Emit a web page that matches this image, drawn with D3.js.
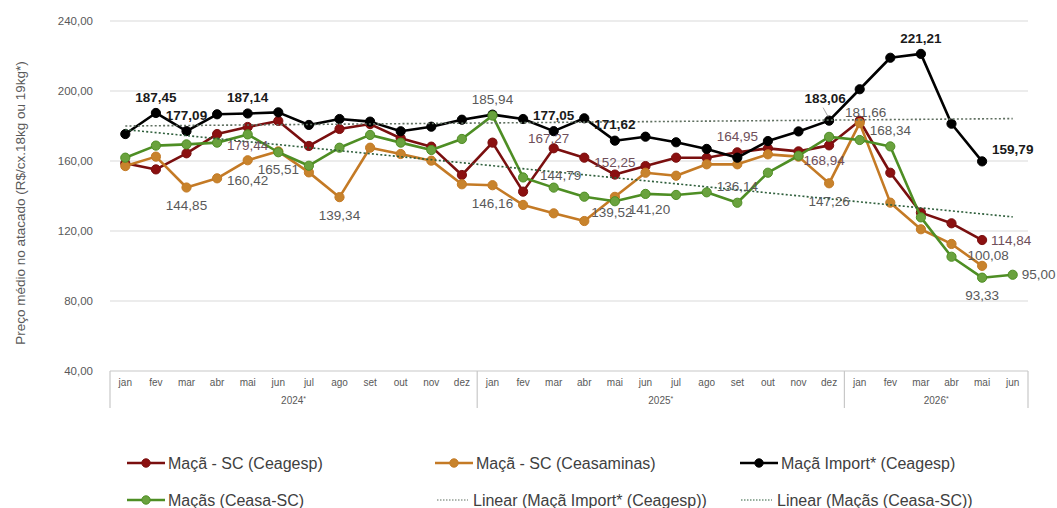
<!DOCTYPE html>
<html><head><meta charset="utf-8">
<script src="https://cdn.jsdelivr.net/npm/d3@7/dist/d3.min.js"></script>
<style>body{margin:0;background:#fff;} svg{display:block;font-family:"Liberation Sans",Arial,sans-serif;}</style>
</head><body><svg id="c" width="1057" height="508"></svg>
<script>
const months = ["jan","fev","mar","abr","mai","jun","jul","ago","set","out","nov","dez",
  "jan","fev","mar","abr","mai","jun","jul","ago","set","out","nov","dez",
  "jan","fev","mar","abr","mai","jun"];
const years = ["2024","2025","2026"];
const yearSpans = [12,12,6];
const yTicks = [40,80,120,160,200,240];

const ceagespSC = [158.7,155.2,164.4,175.4,179.44,182.9,168.6,178.3,181.1,173.0,168.2,152.0,
  170.5,142.5,167.27,161.9,152.25,157.1,161.9,161.9,164.95,167.2,165.5,168.94,
  183.0,153.3,130.5,124.4,114.84];
const ceasaminas = [157.1,162.5,144.85,150.1,160.42,165.51,153.5,139.34,167.6,164.0,160.2,146.7,
  146.16,134.9,130.1,125.7,139.52,153.3,151.6,158.1,158.1,163.8,162.5,147.26,
  181.66,136.2,121.0,112.6,100.08];
const importCeagesp = [175.4,187.45,177.09,186.7,187.14,187.8,180.6,184.0,182.5,177.0,179.6,183.6,
  186.5,184.0,177.05,184.4,171.62,173.9,170.7,166.9,161.9,171.4,176.9,183.06,
  201.0,219.0,221.21,181.3,159.79];
const ceasaSC = [161.9,168.8,169.5,170.5,175.2,165.0,157.3,167.6,174.9,170.5,166.3,172.6,
  185.94,150.6,144.79,139.6,137.0,141.20,140.6,142.1,136.14,153.3,163.0,173.8,
  172.0,168.34,127.8,105.3,93.33,95.00];

const seriesNames = ["Maçã - SC (Ceagesp)","Maçã - SC (Ceasaminas)","Maçã Import* (Ceagesp)","Maçãs (Ceasa-SC)"];
const trendNames = ["Linear (Maçã Import* (Ceagesp))","Linear (Maçãs (Ceasa-SC))"];

// labelled points: [series index, point index, placement]
const labelled = [
  [2,1,"a"],[2,2,"a"],[2,4,"a"],[2,14,"a"],[2,16,"a"],[2,23,"lead"],[2,26,"a"],[2,28,"rup"],
  [0,4,"b"],[0,14,"al"],[0,16,"a2"],[0,20,"a"],[0,23,"bl"],[0,28,"r"],
  [1,2,"b"],[1,4,"b3"],[1,7,"b"],[1,12,"b"],[1,16,"b2l"],[1,23,"b"],[1,24,"ar"],[1,28,"ar"],
  [1,5,"b"],[3,12,"a"],[3,14,"ar2"],[3,17,"b2r"],[3,20,"a"],[3,25,"a"],[3,28,"b"],[3,29,"r"]
];

const svg = d3.select("#c");
const pLeft = 110, pRight = 1028, pTop = 21, pBottom = 371;
const x = d3.scaleBand().domain(d3.range(months.length)).range([pLeft,pRight]);
const cx = i => x(i) + x.bandwidth()/2;
const y = d3.scaleLinear().domain([40,240]).range([pBottom,pTop]);

const colors = {
  line:["#7a0f0f","#c47a25","#000000","#4e8e24"],
  mark:["#8b1010","#c8832c","#000000","#6aa23e"],
  label:["#6e4f5a","#595959","#1a1a1a","#595959"]
};
const fmt = v => d3.format(".2f")(v).replace(".",",");

// grid
const yAxis = d3.axisLeft(y).tickValues(yTicks).tickSize(0).tickFormat(fmt);
const ga = svg.append("g").attr("transform",`translate(${pLeft-14},0)`).call(yAxis);
ga.select(".domain").remove();
ga.selectAll("text").attr("fill","#595959").style("font-size","11.5px").attr("font-family","Liberation Sans, Arial");
svg.append("g").selectAll("line").data(yTicks.filter(t=>t>40)).join("line")
  .attr("x1",pLeft).attr("x2",pRight).attr("y1",d=>y(d)).attr("y2",d=>y(d))
  .attr("stroke","#d9d9d9").attr("stroke-width",1.2);

// category axis box
svg.append("line").attr("x1",pLeft).attr("x2",pRight).attr("y1",y(40)).attr("y2",y(40)).attr("stroke","#c8c8c8").attr("stroke-width",1.2);
let acc = 0;
const bounds = [0];
yearSpans.forEach(s=>{acc+=s; bounds.push(acc);});
svg.append("g").selectAll("line").data(bounds).join("line")
  .attr("x1",d=> d<months.length ? x(d) : pRight).attr("x2",d=> d<months.length ? x(d) : pRight)
  .attr("y1",y(40)).attr("y2",y(40)+37).attr("stroke","#c8c8c8").attr("stroke-width",1.2);
svg.append("g").selectAll("text").data(months).join("text")
  .attr("x",(d,i)=>cx(i)).attr("y",y(40)+15).attr("text-anchor","middle")
  .attr("fill","#595959").style("font-size","10px").text(d=>d);
const yt = svg.append("g").selectAll("text").data(years).join("text")
  .attr("x",(d,i)=>{const a=bounds[i], b=bounds[i+1]; return (x(a) + (b<months.length?x(b):pRight))/2;})
  .attr("y",y(40)+33).attr("text-anchor","middle").attr("fill","#595959").style("font-size","10px");
yt.append("tspan").text(d=>d);
yt.append("tspan").attr("dy",-3).style("font-size","7px").text("*");

// y title
svg.append("text").attr("transform","translate(25,203) rotate(-90)").attr("text-anchor","middle")
  .attr("fill","#595959").style("font-size","13.5px").text("Preço médio no atacado (R$/cx.18kg ou 19kg*)");

const all = [ceagespSC, ceasaminas, importCeagesp, ceasaSC];
const line = d3.line().x((d,i)=>cx(i)).y(d=>y(d));
all.forEach((s,k)=>{
  svg.append("path").datum(s).attr("d",line).attr("fill","none")
    .attr("stroke",colors.line[k]).attr("stroke-width",2.6).attr("stroke-linejoin","round");
  svg.append("g").selectAll("circle").data(s).join("circle")
    .attr("cx",(d,i)=>cx(i)).attr("cy",d=>y(d)).attr("r",4.6)
    .attr("fill",colors.mark[k]).attr("stroke",colors.line[k]).attr("stroke-width",1);
});

// linear trends (least squares)
function fit(s){
  const n=s.length, xs=d3.range(n);
  const mx=d3.mean(xs), my=d3.mean(s);
  const b=d3.sum(xs,(xi,i)=>(xi-mx)*(s[i]-my))/d3.sum(xs,xi=>(xi-mx)*(xi-mx));
  return i=> my + b*(i-mx);
}
const trendSeries=[importCeagesp, ceasaSC];
const trendColors=["#5f6f60","#2f5f3c"];
trendSeries.forEach((s,k)=>{
  const f=fit(s);
  svg.append("line").attr("x1",cx(0)).attr("x2",cx(months.length-1))
    .attr("y1",y(f(0))).attr("y2",y(f(months.length-1)))
    .attr("stroke",trendColors[k]).attr("stroke-width",1.6).attr("stroke-dasharray","2,2.2");
});

// data labels
const place = {
  a:[0,-16,"middle"], a2:[0,-12,"middle"], al:[-5,-10,"middle"], b:[0,18,"middle"], b2:[0,15,"middle"],
  b3:[0,20,"middle"], b2l:[-3,15,"middle"], b2r:[4,15,"middle"],
  bl:[-5,15,"middle"], ar:[6,-11,"middle"], ar2:[7,-12,"middle"], r:[9,0,"start"], rup:[10,-12,"start"],
  lead:[-4,-22,"middle"]
};
labelled.forEach(([k,i,p])=>{
  const v=all[k][i], px=cx(i), py=y(v), o=place[p];
  if(p==="lead"){
    svg.append("line").attr("x1",px-6).attr("y1",py-13).attr("x2",px-1).attr("y2",py-4)
      .attr("stroke","#a6a6a6").attr("stroke-width",1);
  }
  svg.append("text").attr("x",px+o[0]).attr("y",py+o[1]).attr("dy","0.35em")
    .attr("text-anchor",o[2]).attr("fill",colors.label[k])
    .style("font-size","13.5px").style("font-weight",k===2?"bold":"normal").text(fmt(v));
});

// legend
const leg = [
  {t:seriesNames[0],k:0,x:127,y:463,type:"s"},
  {t:seriesNames[1],k:1,x:435,y:463,type:"s"},
  {t:seriesNames[2],k:2,x:740,y:463,type:"s"},
  {t:seriesNames[3],k:3,x:127,y:500,type:"s"},
  {t:trendNames[0],k:0,x:437,y:500,type:"t"},
  {t:trendNames[1],k:1,x:741,y:500,type:"t"}
];
leg.forEach(d=>{
  const g=svg.append("g");
  if(d.type==="s"){
    g.append("line").attr("x1",d.x).attr("x2",d.x+38).attr("y1",d.y).attr("y2",d.y)
      .attr("stroke",colors.line[d.k]).attr("stroke-width",2.6);
    g.append("circle").attr("cx",d.x+19).attr("cy",d.y).attr("r",4.2).attr("fill",colors.mark[d.k]).attr("stroke",colors.line[d.k]);
    g.append("text").attr("x",d.x+41).attr("y",d.y).attr("dy","0.35em").attr("fill","#404040").style("font-size","16px").text(d.t);
  } else {
    g.append("line").attr("x1",d.x).attr("x2",d.x+31).attr("y1",d.y).attr("y2",d.y)
      .attr("stroke",trendColors[d.k]).attr("stroke-width",1.2).attr("stroke-dasharray","1.5,1.5");
    g.append("text").attr("x",d.x+36).attr("y",d.y).attr("dy","0.35em").attr("fill","#404040").style("font-size","16px").text(d.t);
  }
});
</script></body></html>
